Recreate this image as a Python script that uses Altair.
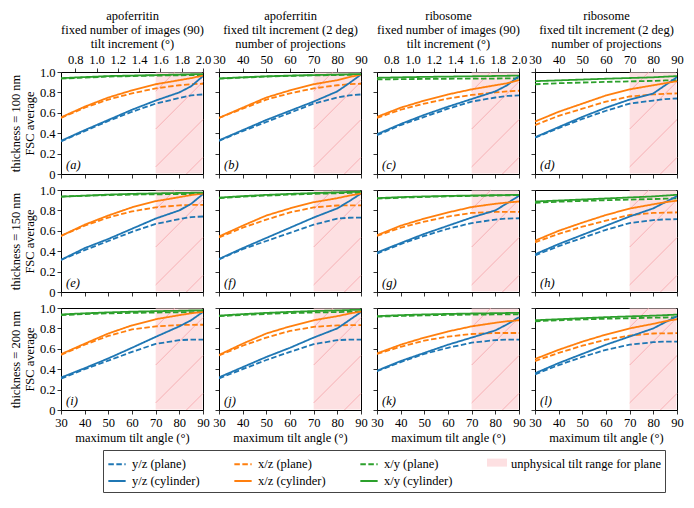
import altair as alt
import numpy as np
import pandas as pd

# ---------------- data ----------------
angles = [30, 40, 50, 60, 70, 80, 85, 90]
angle_ticks = [30, 40, 50, 60, 70, 80, 90]
tilt_increment_ticks = [0.8, 1.0, 1.2, 1.4, 1.6, 1.8, 2.0]
fsc_ticks = [0, 0.2, 0.4, 0.6, 0.8, 1.0]
unphysical_range = [70, 90]

series_names = ["y/z (plane)", "x/z (plane)", "x/y (plane)",
                "y/z (cylinder)", "x/z (cylinder)", "x/y (cylinder)"]
band_label = "unphysical tilt range for plane"
# legend fills column by column (2 rows)
legend_order = ["y/z (plane)", "y/z (cylinder)", "x/z (plane)", "x/z (cylinder)",
                "x/y (plane)", "x/y (cylinder)", band_label]

col_titles = [
    ["apoferritin", "fixed number of images (90)", "tilt increment (°)"],
    ["apoferritin", "fixed tilt increment (2 deg)", "number of projections"],
    ["ribosome", "fixed number of images (90)", "tilt increment (°)"],
    ["ribosome", "fixed tilt increment (2 deg)", "number of projections"],
]
row_titles = [
    ["thickness = 100 nm", "FSC average"],
    ["thickness = 150 nm", "FSC average"],
    ["thickness = 200 nm", "FSC average"],
]
letters = ["(a)", "(b)", "(c)", "(d)", "(e)", "(f)", "(g)", "(h)", "(i)", "(j)", "(k)", "(l)"]

# order of rows in each panel: y/z plane, x/z plane, x/y plane, y/z cyl, x/z cyl, x/y cyl
panel_a = [
    [0.32, 0.42, 0.52, 0.61, 0.69, 0.745, 0.77, 0.78],
    [0.55, 0.65, 0.73, 0.79, 0.84, 0.87, 0.88, 0.885],
    [0.935, 0.945, 0.955, 0.96, 0.965, 0.968, 0.97, 0.97],
    [0.325, 0.43, 0.53, 0.63, 0.72, 0.80, 0.86, 0.96],
    [0.555, 0.66, 0.75, 0.82, 0.88, 0.92, 0.94, 0.965],
    [0.94, 0.95, 0.96, 0.965, 0.97, 0.975, 0.978, 0.98],
]
panel_b = [
    [0.325, 0.42, 0.51, 0.60, 0.69, 0.75, 0.77, 0.78],
    [0.55, 0.64, 0.73, 0.79, 0.84, 0.87, 0.88, 0.885],
    [0.935, 0.945, 0.955, 0.962, 0.967, 0.97, 0.972, 0.973],
    [0.33, 0.43, 0.53, 0.62, 0.71, 0.81, 0.89, 0.975],
    [0.55, 0.65, 0.75, 0.82, 0.88, 0.92, 0.95, 0.975],
    [0.937, 0.948, 0.958, 0.965, 0.97, 0.975, 0.978, 0.98],
]
panel_c = [
    [0.38, 0.48, 0.56, 0.64, 0.71, 0.75, 0.765, 0.77],
    [0.55, 0.63, 0.69, 0.74, 0.775, 0.80, 0.81, 0.816],
    [0.927, 0.93, 0.932, 0.934, 0.935, 0.936, 0.937, 0.937],
    [0.39, 0.49, 0.58, 0.66, 0.735, 0.81, 0.87, 0.96],
    [0.56, 0.65, 0.72, 0.78, 0.83, 0.87, 0.89, 0.92],
    [0.943, 0.948, 0.952, 0.955, 0.958, 0.961, 0.963, 0.965],
]
panel_d = [
    [0.355, 0.45, 0.54, 0.62, 0.69, 0.72, 0.735, 0.74],
    [0.48, 0.57, 0.64, 0.71, 0.76, 0.78, 0.787, 0.79],
    [0.88, 0.89, 0.897, 0.903, 0.908, 0.913, 0.917, 0.92],
    [0.36, 0.46, 0.56, 0.65, 0.73, 0.79, 0.87, 0.95],
    [0.514, 0.61, 0.69, 0.77, 0.83, 0.87, 0.89, 0.91],
    [0.91, 0.918, 0.926, 0.934, 0.941, 0.948, 0.954, 0.96],
]
panel_e = [
    [0.315, 0.41, 0.50, 0.59, 0.667, 0.715, 0.735, 0.74],
    [0.55, 0.65, 0.73, 0.79, 0.83, 0.85, 0.853, 0.855],
    [0.935, 0.943, 0.95, 0.955, 0.958, 0.96, 0.961, 0.962],
    [0.315, 0.43, 0.52, 0.62, 0.72, 0.80, 0.865, 0.96],
    [0.55, 0.66, 0.75, 0.83, 0.89, 0.93, 0.95, 0.965],
    [0.935, 0.945, 0.955, 0.962, 0.967, 0.971, 0.973, 0.975],
]
panel_f = [
    [0.32, 0.42, 0.50, 0.58, 0.66, 0.72, 0.728, 0.73],
    [0.535, 0.63, 0.71, 0.78, 0.83, 0.848, 0.85, 0.85],
    [0.92, 0.935, 0.945, 0.955, 0.962, 0.968, 0.971, 0.973],
    [0.324, 0.43, 0.53, 0.63, 0.73, 0.82, 0.89, 0.965],
    [0.544, 0.65, 0.75, 0.82, 0.88, 0.92, 0.945, 0.965],
    [0.925, 0.94, 0.952, 0.962, 0.97, 0.977, 0.981, 0.985],
]
panel_g = [
    [0.377, 0.47, 0.55, 0.62, 0.676, 0.71, 0.72, 0.723],
    [0.55, 0.63, 0.69, 0.74, 0.775, 0.785, 0.786, 0.786],
    [0.915, 0.925, 0.932, 0.938, 0.942, 0.946, 0.948, 0.95],
    [0.387, 0.48, 0.57, 0.65, 0.73, 0.80, 0.87, 0.943],
    [0.556, 0.65, 0.72, 0.78, 0.833, 0.865, 0.877, 0.887],
    [0.92, 0.93, 0.937, 0.942, 0.946, 0.949, 0.951, 0.953],
]
panel_h = [
    [0.358, 0.45, 0.53, 0.61, 0.676, 0.705, 0.712, 0.714],
    [0.487, 0.57, 0.64, 0.70, 0.755, 0.775, 0.778, 0.78],
    [0.874, 0.885, 0.893, 0.90, 0.906, 0.911, 0.915, 0.918],
    [0.37, 0.47, 0.56, 0.65, 0.74, 0.82, 0.88, 0.94],
    [0.503, 0.60, 0.68, 0.755, 0.818, 0.86, 0.88, 0.896],
    [0.887, 0.897, 0.907, 0.917, 0.927, 0.937, 0.945, 0.953],
]
panel_i = [
    [0.308, 0.40, 0.484, 0.57, 0.648, 0.685, 0.69, 0.69],
    [0.54, 0.64, 0.726, 0.79, 0.82, 0.833, 0.835, 0.836],
    [0.93, 0.94, 0.947, 0.952, 0.956, 0.958, 0.959, 0.96],
    [0.318, 0.41, 0.506, 0.61, 0.717, 0.82, 0.88, 0.962],
    [0.547, 0.65, 0.75, 0.83, 0.89, 0.93, 0.948, 0.962],
    [0.937, 0.948, 0.957, 0.964, 0.969, 0.973, 0.976, 0.978],
]
panel_j = [
    [0.31, 0.40, 0.49, 0.57, 0.645, 0.685, 0.69, 0.69],
    [0.535, 0.63, 0.71, 0.775, 0.815, 0.83, 0.832, 0.833],
    [0.92, 0.932, 0.942, 0.95, 0.956, 0.96, 0.962, 0.963],
    [0.32, 0.42, 0.52, 0.61, 0.71, 0.80, 0.88, 0.96],
    [0.54, 0.65, 0.75, 0.82, 0.88, 0.92, 0.945, 0.965],
    [0.925, 0.94, 0.952, 0.962, 0.97, 0.976, 0.98, 0.983],
]
panel_k = [
    [0.38, 0.47, 0.55, 0.61, 0.66, 0.685, 0.69, 0.69],
    [0.55, 0.62, 0.68, 0.72, 0.745, 0.755, 0.755, 0.755],
    [0.915, 0.922, 0.928, 0.932, 0.935, 0.937, 0.938, 0.938],
    [0.385, 0.48, 0.56, 0.64, 0.71, 0.78, 0.84, 0.91],
    [0.555, 0.64, 0.71, 0.77, 0.82, 0.855, 0.87, 0.88],
    [0.92, 0.93, 0.937, 0.942, 0.946, 0.949, 0.951, 0.953],
]
panel_l = [
    [0.35, 0.44, 0.52, 0.59, 0.64, 0.665, 0.67, 0.67],
    [0.48, 0.56, 0.63, 0.69, 0.73, 0.75, 0.752, 0.753],
    [0.87, 0.88, 0.888, 0.895, 0.90, 0.905, 0.907, 0.91],
    [0.36, 0.46, 0.55, 0.64, 0.72, 0.80, 0.86, 0.92],
    [0.50, 0.59, 0.67, 0.74, 0.80, 0.845, 0.87, 0.89],
    [0.88, 0.89, 0.90, 0.91, 0.918, 0.925, 0.93, 0.935],
]
panels = [panel_a, panel_b, panel_c, panel_d, panel_e, panel_f,
          panel_g, panel_h, panel_i, panel_j, panel_k, panel_l]

# ---------------- style ----------------
FONT = "Liberation Serif, Times New Roman, serif"
W, H = 142, 102
BLUE, ORANGE, GREEN, PINK = "#1f77b4", "#ff7f0e", "#2ca02c", "#fde0e2"
DASH = [5.5, 2.5]
LW = 1.8

LEG_X, LEG_Y = 42, 378
LEG_PAD, LEG_SYM, LEG_COLPAD = 4, 300, 30

color_scale = alt.Scale(domain=legend_order,
                        range=[BLUE, BLUE, ORANGE, ORANGE, GREEN, GREEN, "transparent"])
dash_scale = alt.Scale(domain=legend_order,
                       range=[DASH, [1, 0], DASH, [1, 0], DASH, [1, 0], [1, 0]])


def make_legend():
    return alt.Legend(
        title=None, orient="none", legendX=LEG_X, legendY=LEG_Y, columns=4,
        symbolType="stroke", symbolSize=LEG_SYM, symbolStrokeWidth=2,
        labelFont=FONT, labelFontSize=12.5, labelColor="black", labelOffset=5,
        columnPadding=LEG_COLPAD, rowPadding=0, padding=LEG_PAD,
        strokeColor="#444", cornerRadius=0,
    )


# patch symbol overlaid on the 4th legend column
PATCH_X, PATCH_Y = LEG_X + 384, LEG_Y + 2.6


def patch_legend():
    return alt.Legend(
        title=None, orient="none", legendX=PATCH_X, legendY=PATCH_Y,
        symbolType="M-1,-0.4H1V0.4H-1Z", symbolSize=400, symbolStrokeWidth=0,
        symbolOpacity=1, labelExpr="''", padding=0,
    )


def hatch_frame():
    k = (W / 60.0) / H  # 45 degree lines in pixel space
    rows = []
    for c in [83, 67, 51, 35]:
        xs = max(unphysical_range[0], c)
        ys = k * (xs - c)
        xe = min(unphysical_range[1], c + 1.0 / k)
        ye = k * (xe - c)
        if ys < 1:
            rows.append({"hx0": xs, "hx1": xe, "hy0": ys, "hy1": ye})
    return pd.DataFrame(rows)


def make_panel(idx):
    r, c = divmod(idx, 4)
    vals = panels[idx]
    recs = []
    for s, name in enumerate(series_names):
        for a, v in zip(angles, vals[s]):
            recs.append({"angle": a, "fsc": v, "series": name})
    df = pd.DataFrame(recs)

    xscale = alt.Scale(domain=[30, 90], nice=False, zero=False)
    yscale = alt.Scale(domain=[0, 1], nice=False, zero=False)

    bottom_axis = alt.Axis(orient="bottom", values=angle_ticks, labels=(r == 2),
                           title="maximum tilt angle (°)" if r == 2 else None)

    def y_axis():
        return alt.Axis(values=fsc_ticks, labels=(c == 0),
                        labelExpr="datum.value == 0 ? '0' : format(datum.value, '.1f')",
                        title=row_titles[r] if c == 0 else None)

    if r == 0:
        if c in (0, 2):
            top_axis = alt.Axis(orient="top", values=[t * 45 for t in tilt_increment_ticks],
                                labelExpr="format(datum.value / 45, '.1f')",
                                title=col_titles[c])
        else:
            top_axis = alt.Axis(orient="top", values=angle_ticks, title=col_titles[c])
    else:
        top_axis = None

    band_df = pd.DataFrame({"x0": [unphysical_range[0]], "x1": [unphysical_range[1]],
                            "band": [band_label]})
    band = alt.Chart(band_df).mark_rect(opacity=1, x2Offset=-0.6).encode(
        x=alt.X("x0:Q", scale=xscale, axis=top_axis),
        x2="x1:Q",
        y=alt.value(0.6), y2=alt.value(H - 0.6),
        fill=alt.Fill("band:N", scale=alt.Scale(domain=[band_label], range=[PINK]),
                      legend=patch_legend()),
    )
    hatch = alt.Chart(hatch_frame()).mark_rule(color="#f5a3a8", strokeWidth=0.8).encode(
        x=alt.X("hx0:Q", scale=xscale, axis=None), x2="hx1:Q",
        y=alt.Y("hy0:Q", scale=yscale, axis=y_axis()), y2="hy1:Q",
    )
    lines = alt.Chart(df).mark_line(clip=True, strokeWidth=LW).encode(
        x=alt.X("angle:Q", scale=xscale, axis=bottom_axis),
        y=alt.Y("fsc:Q", scale=yscale, axis=y_axis()),
        color=alt.Color("series:N", scale=color_scale, legend=make_legend()),
        strokeDash=alt.StrokeDash("series:N", scale=dash_scale, legend=make_legend()),
    )
    letter = alt.Chart(pd.DataFrame({"t": [letters[idx]]})).mark_text(
        align="left", baseline="alphabetic", font=FONT, fontStyle="italic",
        fontSize=12.5, color="black",
    ).encode(text="t:N", x=alt.value(5), y=alt.value(H - 5))

    return alt.layer(band, hatch, lines, letter).resolve_scale(
        x="independent").resolve_axis(x="independent").properties(width=W, height=H)


chart = alt.concat(*[make_panel(i) for i in range(12)], columns=4, spacing=16,
                   bounds="flush").configure_view(
    stroke="black", strokeWidth=1
).configure_axis(
    labelFont=FONT, labelFontSize=12.5, labelColor="black",
    titleFont=FONT, titleFontSize=12.5, titleFontWeight="normal", titleColor="black",
    titleLineHeight=14, domain=False, grid=False, tickColor="black", tickSize=4,
    tickWidth=0.8, labelPadding=2, titlePadding=3, labelFlush=False, labelOverlap=False,
).properties(padding={"left": 0, "top": 0, "right": 2, "bottom": 2})

chart.save("out.html", embed_options={"renderer": "svg", "actions": False})
